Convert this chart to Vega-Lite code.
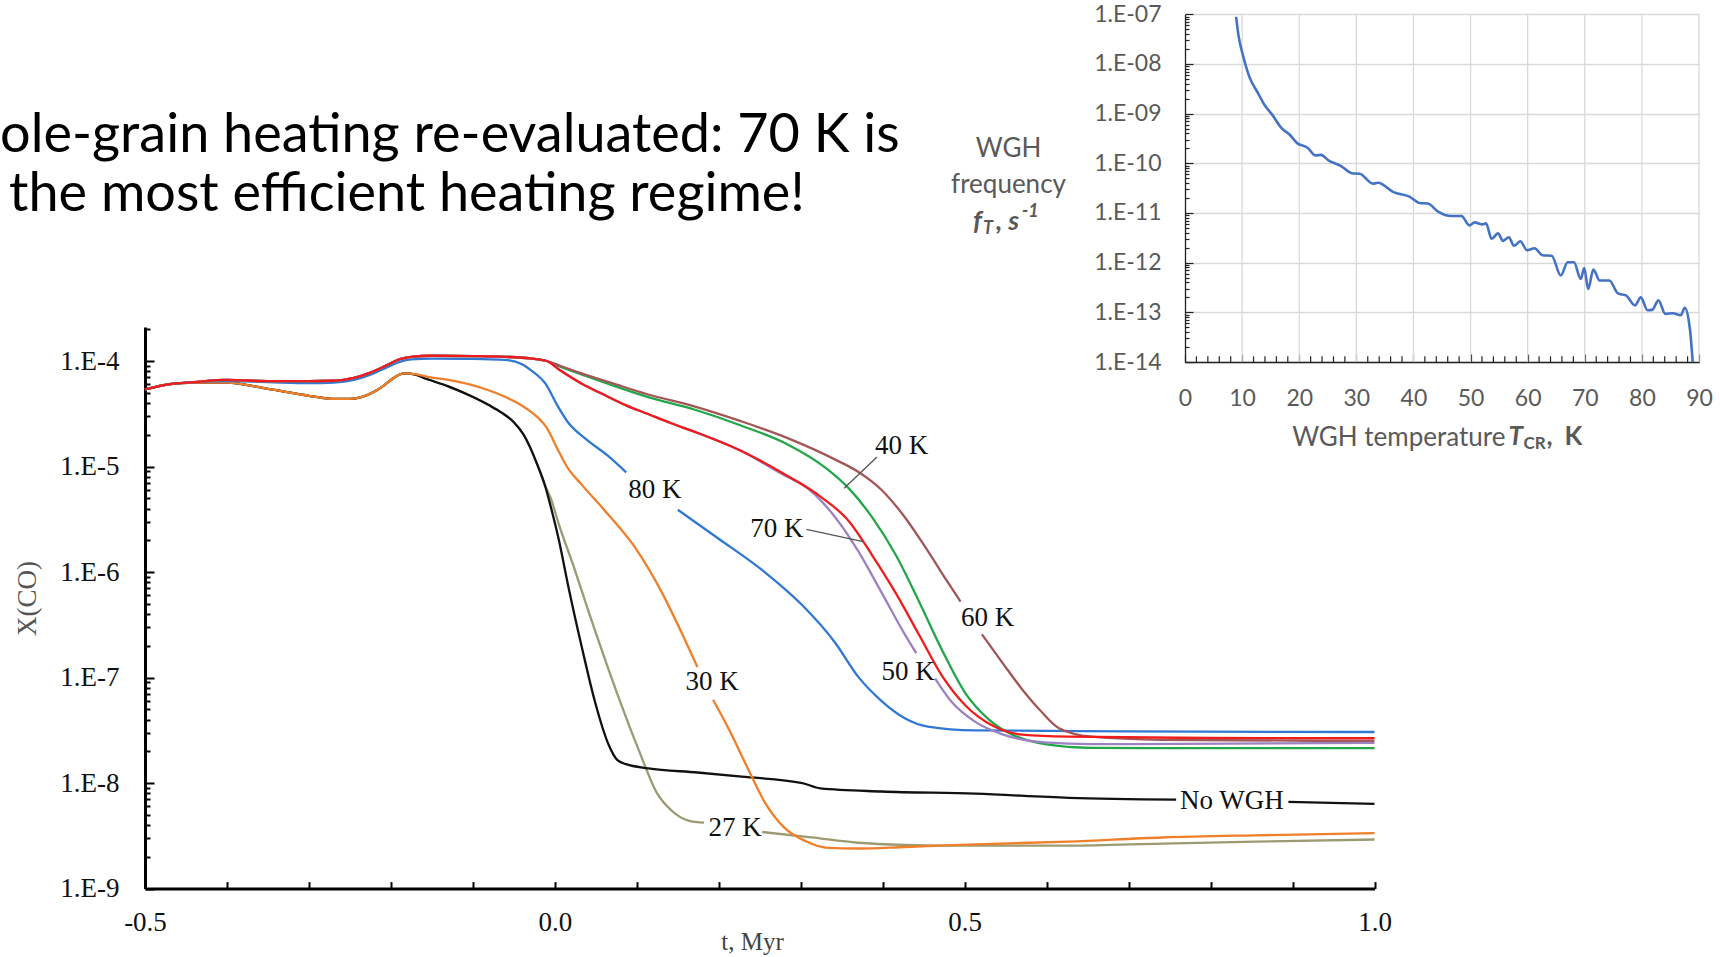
{
  "$schema": "https://vega.github.io/schema/vega-lite/v6.json",
  "width": 1720,
  "height": 957,
  "autosize": {"type": "none"},
  "padding": 0,
  "background": "#ffffff",
  "config": {"view": {"stroke": null}},
  "title": {
    "text": ["Whole-grain heating re-evaluated: 70 K is", "the most efficient heating regime!"],
    "anchor": "start", "frame": "group", "align": "center", "baseline": "alphabetic",
    "dx": 407, "dy": 265, "offset": 0,
    "font": "Lato", "fontSize": 54, "fontWeight": "normal", "color": "#000000", "lineHeight": 59
  },
  "datasets": {
    "curves": [
      {"series":"27 K","seg":"27a","t":-0.5,"X":5.37e-5},{"series":"27 K","seg":"27a","t":-0.47,"X":6.03e-5},{"series":"27 K","seg":"27a","t":-0.44,"X":6.24e-5},{"series":"27 K","seg":"27a","t":-0.4,"X":6.24e-5},{"series":"27 K","seg":"27a","t":-0.35,"X":5.43e-5},{"series":"27 K","seg":"27a","t":-0.3,"X":4.68e-5},{"series":"27 K","seg":"27a","t":-0.27,"X":4.37e-5},{"series":"27 K","seg":"27a","t":-0.25,"X":4.37e-5},{"series":"27 K","seg":"27a","t":-0.235,"X":4.57e-5},{"series":"27 K","seg":"27a","t":-0.22,"X":5.13e-5},{"series":"27 K","seg":"27a","t":-0.21,"X":5.75e-5},{"series":"27 K","seg":"27a","t":-0.2,"X":6.61e-5},{"series":"27 K","seg":"27a","t":-0.19,"X":7.41e-5},{"series":"27 K","seg":"27a","t":-0.183,"X":7.62e-5},
      {"series":"27 K","seg":"27a","t":-0.17,"X":7.41e-5},{"series":"27 K","seg":"27a","t":-0.158,"X":6.82e-5},{"series":"27 K","seg":"27a","t":-0.13,"X":5.75e-5},{"series":"27 K","seg":"27a","t":-0.103,"X":4.68e-5},{"series":"27 K","seg":"27a","t":-0.08,"X":3.8e-5},{"series":"27 K","seg":"27a","t":-0.065,"X":3.24e-5},{"series":"27 K","seg":"27a","t":-0.05,"X":2.63e-5},{"series":"27 K","seg":"27a","t":-0.038,"X":2.0e-5},{"series":"27 K","seg":"27a","t":-0.03,"X":1.51e-5},{"series":"27 K","seg":"27a","t":-0.022,"X":1.07e-5},{"series":"27 K","seg":"27a","t":-0.012,"X":6.61e-6},{"series":"27 K","seg":"27a","t":-0.005,"X":5.01e-6},{"series":"27 K","seg":"27a","t":0.005,"X":2.82e-6},{"series":"27 K","seg":"27a","t":0.022,"X":1.19e-6},{"series":"27 K","seg":"27a","t":0.044,"X":3.63e-7},{"series":"27 K","seg":"27a","t":0.076,"X":7.08e-8},{"series":"27 K","seg":"27a","t":0.103,"X":2.0e-8},{"series":"27 K","seg":"27a","t":0.125,"X":7.94e-9},{"series":"27 K","seg":"27a","t":0.142,"X":5.53e-9},{"series":"27 K","seg":"27a","t":0.163,"X":4.41e-9},{"series":"27 K","seg":"27a","t":0.182,"X":4.21e-9},
      {"series":"27 K","seg":"27b","t":0.253,"X":3.44e-9},{"series":"27 K","seg":"27b","t":0.313,"X":3.06e-9},{"series":"27 K","seg":"27b","t":0.37,"X":2.72e-9},{"series":"27 K","seg":"27b","t":0.427,"X":2.6e-9},{"series":"27 K","seg":"27b","t":0.513,"X":2.55e-9},{"series":"27 K","seg":"27b","t":0.627,"X":2.55e-9},{"series":"27 K","seg":"27b","t":0.741,"X":2.67e-9},{"series":"27 K","seg":"27b","t":0.855,"X":2.79e-9},{"series":"27 K","seg":"27b","t":1.0,"X":2.92e-9},

      {"series":"No WGH","seg":"NWa","t":-0.5,"X":5.37e-5},{"series":"No WGH","seg":"NWa","t":-0.47,"X":6.03e-5},{"series":"No WGH","seg":"NWa","t":-0.44,"X":6.24e-5},{"series":"No WGH","seg":"NWa","t":-0.4,"X":6.24e-5},{"series":"No WGH","seg":"NWa","t":-0.35,"X":5.43e-5},{"series":"No WGH","seg":"NWa","t":-0.3,"X":4.68e-5},{"series":"No WGH","seg":"NWa","t":-0.27,"X":4.37e-5},{"series":"No WGH","seg":"NWa","t":-0.25,"X":4.37e-5},{"series":"No WGH","seg":"NWa","t":-0.235,"X":4.57e-5},{"series":"No WGH","seg":"NWa","t":-0.22,"X":5.13e-5},{"series":"No WGH","seg":"NWa","t":-0.21,"X":5.75e-5},{"series":"No WGH","seg":"NWa","t":-0.2,"X":6.61e-5},{"series":"No WGH","seg":"NWa","t":-0.19,"X":7.41e-5},{"series":"No WGH","seg":"NWa","t":-0.183,"X":7.62e-5},
      {"series":"No WGH","seg":"NWa","t":-0.17,"X":7.41e-5},{"series":"No WGH","seg":"NWa","t":-0.158,"X":6.82e-5},{"series":"No WGH","seg":"NWa","t":-0.13,"X":5.75e-5},{"series":"No WGH","seg":"NWa","t":-0.103,"X":4.68e-5},{"series":"No WGH","seg":"NWa","t":-0.08,"X":3.8e-5},{"series":"No WGH","seg":"NWa","t":-0.065,"X":3.24e-5},{"series":"No WGH","seg":"NWa","t":-0.05,"X":2.63e-5},{"series":"No WGH","seg":"NWa","t":-0.038,"X":2.0e-5},{"series":"No WGH","seg":"NWa","t":-0.03,"X":1.51e-5},{"series":"No WGH","seg":"NWa","t":-0.022,"X":1.07e-5},{"series":"No WGH","seg":"NWa","t":-0.012,"X":6.61e-6},{"series":"No WGH","seg":"NWa","t":-0.005,"X":4.17e-6},{"series":"No WGH","seg":"NWa","t":0.005,"X":2.0e-6},{"series":"No WGH","seg":"NWa","t":0.016,"X":7.59e-7},{"series":"No WGH","seg":"NWa","t":0.033,"X":1.93e-7},{"series":"No WGH","seg":"NWa","t":0.049,"X":5.89e-8},{"series":"No WGH","seg":"NWa","t":0.065,"X":2.37e-8},{"series":"No WGH","seg":"NWa","t":0.076,"X":1.66e-8},{"series":"No WGH","seg":"NWa","t":0.087,"X":1.51e-8},{"series":"No WGH","seg":"NWa","t":0.114,"X":1.38e-8},{"series":"No WGH","seg":"NWa","t":0.174,"X":1.26e-8},{"series":"No WGH","seg":"NWa","t":0.228,"X":1.15e-8},{"series":"No WGH","seg":"NWa","t":0.302,"X":1.0e-8},{"series":"No WGH","seg":"NWa","t":0.324,"X":8.91e-9},{"series":"No WGH","seg":"NWa","t":0.399,"X":8.32e-9},{"series":"No WGH","seg":"NWa","t":0.513,"X":7.94e-9},{"series":"No WGH","seg":"NWa","t":0.627,"X":7.24e-9},{"series":"No WGH","seg":"NWa","t":0.758,"X":6.97e-9},
      {"series":"No WGH","seg":"NWb","t":0.895,"X":6.65e-9},{"series":"No WGH","seg":"NWb","t":1.0,"X":6.35e-9},

      {"series":"30 K","seg":"30a","t":-0.5,"X":5.37e-5},{"series":"30 K","seg":"30a","t":-0.47,"X":6.03e-5},{"series":"30 K","seg":"30a","t":-0.44,"X":6.24e-5},{"series":"30 K","seg":"30a","t":-0.4,"X":6.24e-5},{"series":"30 K","seg":"30a","t":-0.35,"X":5.43e-5},{"series":"30 K","seg":"30a","t":-0.3,"X":4.68e-5},{"series":"30 K","seg":"30a","t":-0.27,"X":4.37e-5},{"series":"30 K","seg":"30a","t":-0.25,"X":4.37e-5},{"series":"30 K","seg":"30a","t":-0.235,"X":4.57e-5},{"series":"30 K","seg":"30a","t":-0.22,"X":5.13e-5},{"series":"30 K","seg":"30a","t":-0.21,"X":5.75e-5},{"series":"30 K","seg":"30a","t":-0.2,"X":6.61e-5},{"series":"30 K","seg":"30a","t":-0.19,"X":7.41e-5},{"series":"30 K","seg":"30a","t":-0.183,"X":7.62e-5},
      {"series":"30 K","seg":"30a","t":-0.17,"X":7.5e-5},{"series":"30 K","seg":"30a","t":-0.158,"X":7.14e-5},{"series":"30 K","seg":"30a","t":-0.13,"X":6.61e-5},{"series":"30 K","seg":"30a","t":-0.103,"X":5.96e-5},{"series":"30 K","seg":"30a","t":-0.08,"X":5.25e-5},{"series":"30 K","seg":"30a","t":-0.065,"X":4.73e-5},{"series":"30 K","seg":"30a","t":-0.045,"X":3.98e-5},{"series":"30 K","seg":"30a","t":-0.033,"X":3.47e-5},{"series":"30 K","seg":"30a","t":-0.02,"X":2.88e-5},{"series":"30 K","seg":"30a","t":-0.011,"X":2.4e-5},{"series":"30 K","seg":"30a","t":0.005,"X":1.38e-5},{"series":"30 K","seg":"30a","t":0.016,"X":9.64e-6},{"series":"30 K","seg":"30a","t":0.033,"X":6.7e-6},{"series":"30 K","seg":"30a","t":0.06,"X":3.89e-6},{"series":"30 K","seg":"30a","t":0.098,"X":1.7e-6},{"series":"30 K","seg":"30a","t":0.131,"X":6.31e-7},{"series":"30 K","seg":"30a","t":0.158,"X":2.34e-7},{"series":"30 K","seg":"30a","t":0.174,"X":1.26e-7},
      {"series":"30 K","seg":"30b","t":0.193,"X":6.17e-8},{"series":"30 K","seg":"30b","t":0.213,"X":3.16e-8},{"series":"30 K","seg":"30b","t":0.233,"X":1.51e-8},{"series":"30 K","seg":"30b","t":0.256,"X":6.61e-9},{"series":"30 K","seg":"30b","t":0.279,"X":3.85e-9},{"series":"30 K","seg":"30b","t":0.307,"X":2.79e-9},{"series":"30 K","seg":"30b","t":0.33,"X":2.45e-9},{"series":"30 K","seg":"30b","t":0.37,"X":2.4e-9},{"series":"30 K","seg":"30b","t":0.427,"X":2.48e-9},{"series":"30 K","seg":"30b","t":0.513,"X":2.63e-9},{"series":"30 K","seg":"30b","t":0.627,"X":2.79e-9},{"series":"30 K","seg":"30b","t":0.741,"X":3.05e-9},{"series":"30 K","seg":"30b","t":0.855,"X":3.2e-9},{"series":"30 K","seg":"30b","t":1.0,"X":3.35e-9},

      {"series":"80 K","seg":"80a","t":-0.5,"X":5.37e-5},{"series":"80 K","seg":"80a","t":-0.47,"X":6.03e-5},{"series":"80 K","seg":"80a","t":-0.44,"X":6.31e-5},{"series":"80 K","seg":"80a","t":-0.4,"X":6.46e-5},{"series":"80 K","seg":"80a","t":-0.35,"X":6.31e-5},{"series":"80 K","seg":"80a","t":-0.3,"X":6.17e-5},{"series":"80 K","seg":"80a","t":-0.27,"X":6.24e-5},{"series":"80 K","seg":"80a","t":-0.245,"X":6.61e-5},{"series":"80 K","seg":"80a","t":-0.225,"X":7.41e-5},{"series":"80 K","seg":"80a","t":-0.205,"X":8.71e-5},{"series":"80 K","seg":"80a","t":-0.19,"X":9.77e-5},{"series":"80 K","seg":"80a","t":-0.175,"X":1.035e-4},{"series":"80 K","seg":"80a","t":-0.15,"X":1.052e-4},{"series":"80 K","seg":"80a","t":-0.1,"X":1.047e-4},{"series":"80 K","seg":"80a","t":-0.06,"X":1.023e-4},{"series":"80 K","seg":"80a","t":-0.04,"X":9.33e-5},{"series":"80 K","seg":"80a","t":-0.027,"X":7.94e-5},{"series":"80 K","seg":"80a","t":-0.011,"X":6.03e-5},{"series":"80 K","seg":"80a","t":0.003,"X":3.8e-5},{"series":"80 K","seg":"80a","t":0.016,"X":2.63e-5},{"series":"80 K","seg":"80a","t":0.038,"X":1.82e-5},{"series":"80 K","seg":"80a","t":0.065,"X":1.26e-5},{"series":"80 K","seg":"80a","t":0.087,"X":8.81e-6},
      {"series":"80 K","seg":"80b","t":0.15,"X":3.89e-6},{"series":"80 K","seg":"80b","t":0.199,"X":2.09e-6},{"series":"80 K","seg":"80b","t":0.256,"X":1.0e-6},{"series":"80 K","seg":"80b","t":0.302,"X":4.84e-7},{"series":"80 K","seg":"80b","t":0.342,"X":2.14e-7},{"series":"80 K","seg":"80b","t":0.37,"X":1.02e-7},{"series":"80 K","seg":"80b","t":0.399,"X":5.96e-8},{"series":"80 K","seg":"80b","t":0.427,"X":4.12e-8},{"series":"80 K","seg":"80b","t":0.455,"X":3.43e-8},{"series":"80 K","seg":"80b","t":0.513,"X":3.16e-8},{"series":"80 K","seg":"80b","t":0.7,"X":3.09e-8},{"series":"80 K","seg":"80b","t":1.0,"X":3.05e-8},

      {"series":"40 K","seg":"40a","t":-0.5,"X":5.37e-5},{"series":"40 K","seg":"40a","t":-0.47,"X":6.03e-5},{"series":"40 K","seg":"40a","t":-0.44,"X":6.31e-5},{"series":"40 K","seg":"40a","t":-0.4,"X":6.61e-5},{"series":"40 K","seg":"40a","t":-0.35,"X":6.46e-5},{"series":"40 K","seg":"40a","t":-0.3,"X":6.46e-5},{"series":"40 K","seg":"40a","t":-0.27,"X":6.5e-5},{"series":"40 K","seg":"40a","t":-0.245,"X":6.92e-5},{"series":"40 K","seg":"40a","t":-0.225,"X":7.76e-5},{"series":"40 K","seg":"40a","t":-0.205,"X":9.12e-5},{"series":"40 K","seg":"40a","t":-0.19,"X":1.035e-4},{"series":"40 K","seg":"40a","t":-0.175,"X":1.096e-4},{"series":"40 K","seg":"40a","t":-0.15,"X":1.122e-4},{"series":"40 K","seg":"40a","t":-0.1,"X":1.114e-4},{"series":"40 K","seg":"40a","t":-0.06,"X":1.096e-4},{"series":"40 K","seg":"40a","t":-0.03,"X":1.059e-4},{"series":"40 K","seg":"40a","t":-0.01,"X":1.0e-4},
      {"series":"40 K","seg":"40a","t":0.005,"X":8.91e-5},{"series":"40 K","seg":"40a","t":0.03,"X":7.59e-5},{"series":"40 K","seg":"40a","t":0.07,"X":5.89e-5},{"series":"40 K","seg":"40a","t":0.113,"X":4.57e-5},{"series":"40 K","seg":"40a","t":0.17,"X":3.47e-5},{"series":"40 K","seg":"40a","t":0.227,"X":2.45e-5},{"series":"40 K","seg":"40a","t":0.284,"X":1.62e-5},{"series":"40 K","seg":"40a","t":0.33,"X":9.77e-6},{"series":"40 K","seg":"40a","t":0.359,"X":6.17e-6},{"series":"40 K","seg":"40a","t":0.387,"X":3.31e-6},{"series":"40 K","seg":"40a","t":0.416,"X":1.45e-6},{"series":"40 K","seg":"40a","t":0.444,"X":5.31e-7},{"series":"40 K","seg":"40a","t":0.473,"X":1.78e-7},{"series":"40 K","seg":"40a","t":0.501,"X":7.08e-8},{"series":"40 K","seg":"40a","t":0.53,"X":3.98e-8},{"series":"40 K","seg":"40a","t":0.558,"X":2.88e-8},{"series":"40 K","seg":"40a","t":0.598,"X":2.34e-8},{"series":"40 K","seg":"40a","t":0.655,"X":2.16e-8},{"series":"40 K","seg":"40a","t":0.8,"X":2.14e-8},{"series":"40 K","seg":"40a","t":1.0,"X":2.14e-8},

      {"series":"60 K","seg":"60a","t":-0.5,"X":5.37e-5},{"series":"60 K","seg":"60a","t":-0.47,"X":6.03e-5},{"series":"60 K","seg":"60a","t":-0.44,"X":6.31e-5},{"series":"60 K","seg":"60a","t":-0.4,"X":6.61e-5},{"series":"60 K","seg":"60a","t":-0.35,"X":6.46e-5},{"series":"60 K","seg":"60a","t":-0.3,"X":6.46e-5},{"series":"60 K","seg":"60a","t":-0.27,"X":6.5e-5},{"series":"60 K","seg":"60a","t":-0.245,"X":6.92e-5},{"series":"60 K","seg":"60a","t":-0.225,"X":7.76e-5},{"series":"60 K","seg":"60a","t":-0.205,"X":9.12e-5},{"series":"60 K","seg":"60a","t":-0.19,"X":1.035e-4},{"series":"60 K","seg":"60a","t":-0.175,"X":1.096e-4},{"series":"60 K","seg":"60a","t":-0.15,"X":1.122e-4},{"series":"60 K","seg":"60a","t":-0.1,"X":1.114e-4},{"series":"60 K","seg":"60a","t":-0.06,"X":1.096e-4},{"series":"60 K","seg":"60a","t":-0.03,"X":1.059e-4},{"series":"60 K","seg":"60a","t":-0.01,"X":1.0e-4},
      {"series":"60 K","seg":"60a","t":0.005,"X":9.12e-5},{"series":"60 K","seg":"60a","t":0.03,"X":7.76e-5},{"series":"60 K","seg":"60a","t":0.07,"X":6.17e-5},{"series":"60 K","seg":"60a","t":0.113,"X":4.84e-5},{"series":"60 K","seg":"60a","t":0.17,"X":3.72e-5},{"series":"60 K","seg":"60a","t":0.227,"X":2.69e-5},{"series":"60 K","seg":"60a","t":0.284,"X":1.86e-5},{"series":"60 K","seg":"60a","t":0.341,"X":1.175e-5},{"series":"60 K","seg":"60a","t":0.37,"X":8.91e-6},{"series":"60 K","seg":"60a","t":0.399,"X":5.96e-6},{"series":"60 K","seg":"60a","t":0.427,"X":3.31e-6},{"series":"60 K","seg":"60a","t":0.455,"X":1.585e-6},{"series":"60 K","seg":"60a","t":0.478,"X":8.32e-7},{"series":"60 K","seg":"60a","t":0.495,"X":5.25e-7},
      {"series":"60 K","seg":"60b","t":0.521,"X":2.57e-7},{"series":"60 K","seg":"60b","t":0.547,"X":1.35e-7},{"series":"60 K","seg":"60b","t":0.57,"X":7.76e-8},{"series":"60 K","seg":"60b","t":0.592,"X":4.9e-8},{"series":"60 K","seg":"60b","t":0.615,"X":3.31e-8},{"series":"60 K","seg":"60b","t":0.655,"X":2.75e-8},{"series":"60 K","seg":"60b","t":0.741,"X":2.57e-8},{"series":"60 K","seg":"60b","t":1.0,"X":2.51e-8},

      {"series":"50 K","seg":"50a","t":-0.5,"X":5.37e-5},{"series":"50 K","seg":"50a","t":-0.47,"X":6.03e-5},{"series":"50 K","seg":"50a","t":-0.44,"X":6.31e-5},{"series":"50 K","seg":"50a","t":-0.4,"X":6.61e-5},{"series":"50 K","seg":"50a","t":-0.35,"X":6.46e-5},{"series":"50 K","seg":"50a","t":-0.3,"X":6.46e-5},{"series":"50 K","seg":"50a","t":-0.27,"X":6.5e-5},{"series":"50 K","seg":"50a","t":-0.245,"X":6.92e-5},{"series":"50 K","seg":"50a","t":-0.225,"X":7.76e-5},{"series":"50 K","seg":"50a","t":-0.205,"X":9.12e-5},{"series":"50 K","seg":"50a","t":-0.19,"X":1.035e-4},{"series":"50 K","seg":"50a","t":-0.175,"X":1.096e-4},{"series":"50 K","seg":"50a","t":-0.15,"X":1.122e-4},{"series":"50 K","seg":"50a","t":-0.1,"X":1.114e-4},{"series":"50 K","seg":"50a","t":-0.06,"X":1.096e-4},{"series":"50 K","seg":"50a","t":-0.03,"X":1.059e-4},{"series":"50 K","seg":"50a","t":-0.01,"X":1.0e-4},
      {"series":"50 K","seg":"50a","t":0.005,"X":8.32e-5},{"series":"50 K","seg":"50a","t":0.033,"X":6.1e-5},{"series":"50 K","seg":"50a","t":0.06,"X":4.79e-5},{"series":"50 K","seg":"50a","t":0.087,"X":3.8e-5},{"series":"50 K","seg":"50a","t":0.113,"X":3.16e-5},{"series":"50 K","seg":"50a","t":0.142,"X":2.57e-5},{"series":"50 K","seg":"50a","t":0.17,"X":2.14e-5},{"series":"50 K","seg":"50a","t":0.227,"X":1.41e-5},{"series":"50 K","seg":"50a","t":0.284,"X":7.94e-6},{"series":"50 K","seg":"50a","t":0.302,"X":6.76e-6},{"series":"50 K","seg":"50a","t":0.342,"X":3.31e-6},{"series":"50 K","seg":"50a","t":0.37,"X":1.585e-6},{"series":"50 K","seg":"50a","t":0.399,"X":6.31e-7},{"series":"50 K","seg":"50a","t":0.427,"X":2.57e-7},{"series":"50 K","seg":"50a","t":0.441,"X":1.7e-7},
      {"series":"50 K","seg":"50b","t":0.464,"X":9.77e-8},{"series":"50 K","seg":"50b","t":0.484,"X":5.89e-8},{"series":"50 K","seg":"50b","t":0.513,"X":3.8e-8},{"series":"50 K","seg":"50b","t":0.547,"X":2.88e-8},{"series":"50 K","seg":"50b","t":0.598,"X":2.43e-8},{"series":"50 K","seg":"50b","t":0.655,"X":2.34e-8},{"series":"50 K","seg":"50b","t":1.0,"X":2.4e-8},

      {"series":"70 K","seg":"70a","t":-0.5,"X":5.37e-5},{"series":"70 K","seg":"70a","t":-0.47,"X":6.03e-5},{"series":"70 K","seg":"70a","t":-0.44,"X":6.31e-5},{"series":"70 K","seg":"70a","t":-0.4,"X":6.61e-5},{"series":"70 K","seg":"70a","t":-0.35,"X":6.46e-5},{"series":"70 K","seg":"70a","t":-0.3,"X":6.46e-5},{"series":"70 K","seg":"70a","t":-0.27,"X":6.5e-5},{"series":"70 K","seg":"70a","t":-0.245,"X":6.92e-5},{"series":"70 K","seg":"70a","t":-0.225,"X":7.76e-5},{"series":"70 K","seg":"70a","t":-0.205,"X":9.12e-5},{"series":"70 K","seg":"70a","t":-0.19,"X":1.035e-4},{"series":"70 K","seg":"70a","t":-0.175,"X":1.096e-4},{"series":"70 K","seg":"70a","t":-0.15,"X":1.122e-4},{"series":"70 K","seg":"70a","t":-0.1,"X":1.114e-4},{"series":"70 K","seg":"70a","t":-0.06,"X":1.096e-4},{"series":"70 K","seg":"70a","t":-0.03,"X":1.059e-4},{"series":"70 K","seg":"70a","t":-0.01,"X":1.0e-4},
      {"series":"70 K","seg":"70a","t":0.005,"X":8.32e-5},{"series":"70 K","seg":"70a","t":0.033,"X":6.1e-5},{"series":"70 K","seg":"70a","t":0.06,"X":4.79e-5},{"series":"70 K","seg":"70a","t":0.087,"X":3.8e-5},{"series":"70 K","seg":"70a","t":0.113,"X":3.16e-5},{"series":"70 K","seg":"70a","t":0.142,"X":2.57e-5},{"series":"70 K","seg":"70a","t":0.17,"X":2.14e-5},{"series":"70 K","seg":"70a","t":0.227,"X":1.41e-5},{"series":"70 K","seg":"70a","t":0.284,"X":8.13e-6},{"series":"70 K","seg":"70a","t":0.324,"X":5.19e-6},{"series":"70 K","seg":"70a","t":0.359,"X":3.02e-6},{"series":"70 K","seg":"70a","t":0.387,"X":1.45e-6},{"series":"70 K","seg":"70a","t":0.416,"X":6.31e-7},{"series":"70 K","seg":"70a","t":0.444,"X":2.57e-7},{"series":"70 K","seg":"70a","t":0.473,"X":1.02e-7},{"series":"70 K","seg":"70a","t":0.501,"X":5.43e-8},{"series":"70 K","seg":"70a","t":0.535,"X":3.47e-8},{"series":"70 K","seg":"70a","t":0.57,"X":2.88e-8},{"series":"70 K","seg":"70a","t":0.627,"X":2.75e-8},{"series":"70 K","seg":"70a","t":0.8,"X":2.68e-8},{"series":"70 K","seg":"70a","t":1.0,"X":2.66e-8}
    ],
    "labels": [
      {"label":"40 K","t":0.423,"X":1.55e-5},
      {"label":"80 K","t":0.122,"X":5.93e-6},
      {"label":"70 K","t":0.271,"X":2.57e-6},
      {"label":"60 K","t":0.528,"X":3.7e-7},
      {"label":"50 K","t":0.431,"X":1.14e-7},
      {"label":"30 K","t":0.192,"X":8.99e-8},
      {"label":"27 K","t":0.22,"X":3.73e-9},
      {"label":"No WGH","t":0.826,"X":6.79e-9}
    ],
    "leaders": [
      {"t":0.393,"X":1.23e-5,"t2":0.353,"X2":6.22e-6},
      {"t":0.307,"X":2.54e-6,"t2":0.376,"X2":1.94e-6}
    ],
    "wgh": [
      {"T":8.95,"f":8.91e-8},{"T":9.4,"f":3.55e-8},{"T":10.05,"f":1.66e-8},{"T":11.24,"f":5.62e-9},{"T":12.8,"f":2.57e-9},{"T":13.9,"f":1.51e-9},{"T":15.26,"f":9.55e-10},{"T":16.9,"f":5.13e-10},{"T":18.3,"f":3.8e-10},{"T":19.6,"f":2.57e-10},{"T":21.5,"f":2.04e-10},{"T":22.8,"f":1.445e-10},{"T":23.8,"f":1.48e-10},{"T":25.1,"f":1.15e-10},{"T":27.4,"f":8.71e-11},{"T":29.2,"f":6.31e-11},{"T":30.6,"f":6.17e-11},{"T":32.9,"f":3.89e-11},{"T":33.8,"f":4.07e-11},{"T":36.5,"f":2.63e-11},{"T":39.3,"f":2.14e-11},{"T":41.1,"f":1.585e-11},{"T":42.5,"f":1.55e-11},{"T":44.3,"f":1.07e-11},{"T":46.6,"f":8.71e-12},{"T":48.4,"f":8.71e-12},{"T":49.8,"f":5.62e-12},{"T":50.7,"f":6.46e-12},{"T":52.1,"f":5.89e-12},{"T":52.7,"f":6.17e-12},{"T":53.7,"f":3.02e-12},{"T":54.8,"f":3.89e-12},{"T":55.7,"f":2.75e-12},{"T":56.7,"f":3.24e-12},{"T":57.6,"f":2.19e-12},{"T":58.7,"f":2.69e-12},{"T":59.9,"f":1.78e-12},{"T":61.2,"f":1.95e-12},{"T":62.6,"f":1.41e-12},{"T":64.2,"f":1.38e-12},{"T":65.8,"f":5.5e-13},{"T":67.0,"f":1.02e-12},{"T":68.1,"f":1.02e-12},{"T":69.3,"f":4.68e-13},{"T":69.9,"f":7.76e-13},{"T":70.6,"f":2.95e-13},{"T":71.5,"f":7.24e-13},{"T":72.6,"f":4.37e-13},{"T":74.3,"f":4.37e-13},{"T":75.8,"f":2.4e-13},{"T":77.2,"f":2.19e-13},{"T":78.8,"f":1.38e-13},{"T":79.8,"f":2.0e-13},{"T":81.0,"f":1.1e-13},{"T":81.8,"f":1.12e-13},{"T":82.9,"f":1.74e-13},{"T":84.1,"f":9.33e-14},{"T":85.4,"f":9.55e-14},{"T":86.8,"f":8.71e-14},{"T":87.5,"f":1.23e-13},{"T":88.4,"f":4.68e-14},{"T":88.9,"f":1.0e-14}
    ],
    "insetGrid": [{"T":10},{"T":20},{"T":30},{"T":40},{"T":50},{"T":60},{"T":70},{"T":80},{"T":90}],
    "insetMinor": [{"T":2},{"T":4},{"T":6},{"T":8},{"T":12},{"T":14},{"T":16},{"T":18},{"T":22},{"T":24},{"T":26},{"T":28},{"T":32},{"T":34},{"T":36},{"T":38},{"T":42},{"T":44},{"T":46},{"T":48},{"T":52},{"T":54},{"T":56},{"T":58},{"T":62},{"T":64},{"T":66},{"T":68},{"T":72},{"T":74},{"T":76},{"T":78},{"T":82},{"T":84},{"T":86},{"T":88}],
    "insetNotes": [
      {"note":"x","T":57,"f":3.09e-16},
      {"note":"y","T":-31,"f":6.58e-12}
    ]
  },
  "layer": [
    {
      "layer": [
        {
          "data": {"name": "curves"},
          "mark": {"type": "line", "interpolate": "monotone", "strokeWidth": 2.3},
          "encoding": {
            "x": {
              "field": "t", "type": "quantitative",
              "scale": {"domain": [-0.5, 1.0], "range": [145, 1374.5], "nice": false, "zero": false},
              "axis": {
                "orient": "bottom", "offset": -68.4,
                "values": [-0.5, -0.4, -0.3, -0.2, -0.1, 0, 0.1, 0.2, 0.3, 0.4, 0.5, 0.6, 0.7, 0.8, 0.9, 1.0],
                "labelExpr": "datum.value == -0.5 ? '-0.5' : datum.value == 0 ? '0.0' : datum.value == 0.5 ? '0.5' : datum.value == 1 ? '1.0' : ''",
                "grid": false,
                "domainColor": "#000000", "domainWidth": 3,
                "tickColor": "#000000", "tickWidth": 2, "tickSize": -7,
                "labelFont": "Liberation Serif", "labelFontSize": 27, "labelColor": "#111111", "labelPadding": 28,
                "labelOverlap": false, "labelFlush": false, "labelBound": false,
                "title": "t, Myr", "titleFont": "Liberation Serif", "titleFontSize": 25, "titleFontStyle": "normal", "titleFontWeight": "normal", "titleColor": "#444444",
                "titleX": 752, "titleY": 53, "titleBaseline": "middle", "titleAlign": "center"
              }
            },
            "y": {
              "field": "X", "type": "quantitative",
              "scale": {"type": "log", "domain": [1e-9, 2.1e-4], "range": [888.6, 327], "nice": false},
              "axis": {
                "orient": "left", "offset": -145,
                "values": [1e-9,2e-9,3e-9,4e-9,5e-9,6e-9,7e-9,8e-9,9e-9,1e-8,2e-8,3e-8,4e-8,5e-8,6e-8,7e-8,8e-8,9e-8,1e-7,2e-7,3e-7,4e-7,5e-7,6e-7,7e-7,8e-7,9e-7,1e-6,2e-6,3e-6,4e-6,5e-6,6e-6,7e-6,8e-6,9e-6,1e-5,2e-5,3e-5,4e-5,5e-5,6e-5,7e-5,8e-5,9e-5,1e-4,2e-4],
                "labelExpr": "abs(log(datum.value)/LN10 - round(log(datum.value)/LN10)) < 0.001 ? '1.E' + round(log(datum.value)/LN10) : ''",
                "grid": false,
                "domainColor": "#000000", "domainWidth": 3,
                "tickColor": "#000000", "tickWidth": 2,
                "tickSize": {"condition": {"test": "abs(log(datum.value)/LN10 - round(log(datum.value)/LN10)) < 0.001", "value": -9}, "value": -5},
                "labelFont": "Liberation Serif", "labelFontSize": 27, "labelColor": "#111111", "labelPadding": 35,
                "labelOverlap": false, "labelBound": false, "labelFlush": false,
                "title": "X(CO)", "titleFont": "Liberation Serif", "titleFontSize": 27, "titleFontWeight": "normal", "titleColor": "#555555",
                "titleAngle": -90, "titleX": -118, "titleY": 598, "titleBaseline": "middle", "titleAlign": "center"
              }
            },
            "color": {
              "field": "series", "type": "nominal",
              "scale": {
                "domain": ["27 K", "No WGH", "30 K", "80 K", "40 K", "60 K", "50 K", "70 K"],
                "range": ["#9c9a70", "#111111", "#f07f2a", "#2f78d4", "#22a64a", "#a35656", "#9d82c2", "#f01c1c"]
              },
              "legend": null
            },
            "detail": {"field": "seg"}
          }
        },
        {
          "data": {"name": "leaders"},
          "mark": {"type": "rule", "color": "#555555", "strokeWidth": 1.3},
          "encoding": {
            "x": {"field": "t", "type": "quantitative", "scale": {"domain": [-0.5, 1.0], "range": [145, 1374.5], "nice": false, "zero": false}},
            "y": {"field": "X", "type": "quantitative", "scale": {"type": "log", "domain": [1e-9, 2.1e-4], "range": [888.6, 327], "nice": false}},
            "x2": {"field": "t2"},
            "y2": {"field": "X2"}
          }
        },
        {
          "data": {"name": "labels"},
          "mark": {"type": "text", "font": "Liberation Serif", "fontSize": 27, "color": "#111111", "align": "center", "baseline": "middle"},
          "encoding": {
            "x": {"field": "t", "type": "quantitative", "scale": {"domain": [-0.5, 1.0], "range": [145, 1374.5], "nice": false, "zero": false}},
            "y": {"field": "X", "type": "quantitative", "scale": {"type": "log", "domain": [1e-9, 2.1e-4], "range": [888.6, 327], "nice": false}},
            "text": {"field": "label"}
          }
        }
      ]
    },
    {
      "layer": [
        {
          "data": {"name": "insetGrid"},
          "mark": {"type": "rule", "color": "#d9d9d9", "strokeWidth": 1.3},
          "encoding": {
            "x": {
              "field": "T", "type": "quantitative",
              "scale": {"domain": [0, 90], "range": [1185, 1699], "nice": false, "zero": false},
              "axis": {
                "orient": "bottom", "offset": -595,
                "values": [0, 10, 20, 30, 40, 50, 60, 70, 80, 90],
                "grid": false,
                "domainColor": "#222222", "domainWidth": 1.3,
                "tickColor": "#222222", "tickWidth": 1.2, "tickSize": -8,
                "labelFont": "Lato", "labelFontSize": 23, "labelColor": "#595959", "labelPadding": 33,
                "labelOverlap": false, "labelFlush": false, "labelBound": false,
                "title": "WGH temperature", "titleFont": "Lato", "titleFontSize": 26, "titleFontWeight": "normal", "titleColor": "#595959",
                "titleAlign": "right", "titleX": 1505, "titleY": 75, "titleBaseline": "middle"
              }
            },
            "y": {
              "datum": 1e-14, "type": "quantitative",
              "scale": {"type": "log", "domain": [1e-14, 1e-7], "range": [362, 14.3], "nice": false},
              "axis": {
                "orient": "left", "offset": -1185,
                "values": [1e-14,2e-14,3e-14,4e-14,5e-14,6e-14,7e-14,8e-14,9e-14,1e-13,2e-13,3e-13,4e-13,5e-13,6e-13,7e-13,8e-13,9e-13,1e-12,2e-12,3e-12,4e-12,5e-12,6e-12,7e-12,8e-12,9e-12,1e-11,2e-11,3e-11,4e-11,5e-11,6e-11,7e-11,8e-11,9e-11,1e-10,2e-10,3e-10,4e-10,5e-10,6e-10,7e-10,8e-10,9e-10,1e-9,2e-9,3e-9,4e-9,5e-9,6e-9,7e-9,8e-9,9e-9,1e-8,2e-8,3e-8,4e-8,5e-8,6e-8,7e-8,8e-8,9e-8,1e-7],
                "labelExpr": "abs(log(datum.value)/LN10 - round(log(datum.value)/LN10)) < 0.001 ? ('1.E-' + (round(log(datum.value)/LN10) > -10 ? '0' : '') + (-round(log(datum.value)/LN10))) : ''",
                "grid": true, "gridColor": "#d9d9d9", "gridWidth": 1.3,
                "gridOpacity": {"condition": {"test": "abs(log(datum.value)/LN10 - round(log(datum.value)/LN10)) < 0.001", "value": 1}, "value": 0},
                "domainColor": "#222222", "domainWidth": 1.3,
                "tickColor": "#222222", "tickWidth": 1.2,
                "tickSize": {"condition": {"test": "abs(log(datum.value)/LN10 - round(log(datum.value)/LN10)) < 0.001", "value": -8}, "value": -4},
                "labelFont": "Lato", "labelFontSize": 23, "labelColor": "#595959", "labelPadding": 32,
                "labelOverlap": false, "labelFlush": false, "labelBound": false,
                "title": ["WGH", "frequency"], "titleFont": "Lato", "titleFontSize": 26, "titleFontWeight": "normal", "titleColor": "#595959",
                "titleAngle": 0, "titleAlign": "center", "titleBaseline": "middle", "titleX": -177, "titleY": 148, "titleLineHeight": 36
              }
            },
            "y2": {"datum": 1e-7}
          }
        },
        {
          "data": {"name": "insetMinor"},
          "mark": {"type": "rule", "color": "#222222", "strokeWidth": 1.2},
          "encoding": {
            "x": {"field": "T", "type": "quantitative", "scale": {"domain": [0, 90], "range": [1185, 1699], "nice": false, "zero": false}},
            "y": {"datum": 1e-14, "type": "quantitative", "scale": {"type": "log", "domain": [1e-14, 1e-7], "range": [362, 14.3], "nice": false}},
            "y2": {"datum": 1.3e-14}
          }
        },
        {
          "data": {"name": "wgh"},
          "mark": {"type": "line", "interpolate": "monotone", "color": "#4472c4", "strokeWidth": 2.6},
          "encoding": {
            "x": {"field": "T", "type": "quantitative", "scale": {"domain": [0, 90], "range": [1185, 1699], "nice": false, "zero": false}},
            "y": {"field": "f", "type": "quantitative", "scale": {"type": "log", "domain": [1e-14, 1e-7], "range": [362, 14.3], "nice": false}}
          }
        },
        {
          "data": {"name": "insetNotes"},
          "transform": [{"filter": "datum.note == 'x'"}],
          "layer": [
            {"mark": {"type": "text", "font": "Lato", "fontSize": 26, "fontWeight": "bold", "fontStyle": "italic", "color": "#595959", "align": "left", "baseline": "middle", "dx": -2}, "encoding": {"text": {"value": "T"}}},
            {"mark": {"type": "text", "font": "Lato", "fontSize": 17, "fontWeight": "bold", "color": "#595959", "align": "left", "baseline": "middle", "dx": 13, "dy": 7}, "encoding": {"text": {"value": "CR"}}},
            {"mark": {"type": "text", "font": "Lato", "fontSize": 26, "fontWeight": "bold", "color": "#595959", "align": "left", "baseline": "middle", "dx": 36}, "encoding": {"text": {"value": ","}}},
            {"mark": {"type": "text", "font": "Lato", "fontSize": 26, "fontWeight": "bold", "color": "#595959", "align": "left", "baseline": "middle", "dx": 54}, "encoding": {"text": {"value": "K"}}}
          ],
          "encoding": {
            "x": {"field": "T", "type": "quantitative", "scale": {"domain": [0, 90], "range": [1185, 1699], "nice": false, "zero": false}},
            "y": {"field": "f", "type": "quantitative", "scale": {"type": "log", "domain": [1e-14, 1e-7], "range": [362, 14.3], "nice": false}}
          }
        },
        {
          "data": {"name": "insetNotes"},
          "transform": [{"filter": "datum.note == 'y'"}],
          "layer": [
            {"mark": {"type": "text", "font": "Lato", "fontSize": 27, "fontWeight": "bold", "fontStyle": "italic", "color": "#595959", "align": "left", "baseline": "middle", "dx": -35}, "encoding": {"text": {"value": "f"}}},
            {"mark": {"type": "text", "font": "Lato", "fontSize": 18, "fontWeight": "bold", "fontStyle": "italic", "color": "#595959", "align": "left", "baseline": "middle", "dx": -25, "dy": 7}, "encoding": {"text": {"value": "T"}}},
            {"mark": {"type": "text", "font": "Lato", "fontSize": 27, "fontWeight": "bold", "fontStyle": "italic", "color": "#595959", "align": "left", "baseline": "middle", "dx": -12}, "encoding": {"text": {"value": ", s"}}},
            {"mark": {"type": "text", "font": "Lato", "fontSize": 18, "fontWeight": "bold", "fontStyle": "italic", "color": "#595959", "align": "left", "baseline": "middle", "dx": 14, "dy": -10}, "encoding": {"text": {"value": "-1"}}}
          ],
          "encoding": {
            "x": {"field": "T", "type": "quantitative", "scale": {"domain": [0, 90], "range": [1185, 1699], "nice": false, "zero": false}},
            "y": {"field": "f", "type": "quantitative", "scale": {"type": "log", "domain": [1e-14, 1e-7], "range": [362, 14.3], "nice": false}}
          }
        }
      ]
    }
  ],
  "resolve": {
    "scale": {"x": "independent", "y": "independent"},
    "axis": {"x": "independent", "y": "independent"}
  }
}
